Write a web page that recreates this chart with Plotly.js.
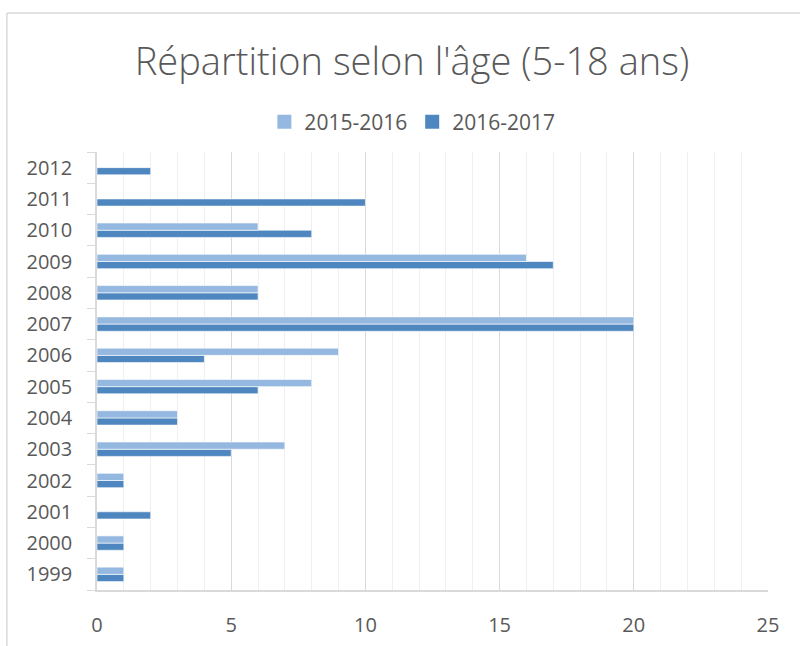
<!DOCTYPE html>
<html>
<head>
<meta charset="utf-8">
<script src="https://cdn.plot.ly/plotly-3.0.1.min.js"></script>
<style>html,body{margin:0;padding:0;background:#fff;}#chart{width:800px;height:646px;}</style>
</head>
<body>
<div id="chart"></div>
<script>
const years = ['1999','2000','2001','2002','2003','2004','2005','2006','2007','2008','2009','2010','2011','2012'];
const s2015_2016 = [1, 1, 0, 1, 7, 3, 8, 9, 20, 6, 16, 6, 0, 0];
const s2016_2017 = [1, 1, 2, 1, 5, 3, 6, 4, 20, 6, 17, 8, 10, 2];
const seriesNames = ['2015-2016', '2016-2017'];
const seriesColors = ['#95b8e0', '#4e87bf'];
const xTicks = [0, 5, 10, 15, 20, 25];

const FONT = 'Open Sans, Lato, sans-serif';
const GRAY = '#595959';

const traces = [
  {
    type: 'bar', orientation: 'h', name: seriesNames[1], y: years, x: s2016_2017,
    marker: {color: seriesColors[1], line: {color: '#ffffff', width: 0.6}},
    showlegend: false, hoverinfo: 'x+y'
  },
  {
    type: 'bar', orientation: 'h', name: seriesNames[0], y: years, x: s2015_2016,
    marker: {color: seriesColors[0], line: {color: '#ffffff', width: 0.6}},
    showlegend: false, hoverinfo: 'x+y'
  },
  // legend keys (larger squares, as in the reference)
  {
    type: 'scatter', mode: 'markers', name: seriesNames[0], x: [null], y: [null],
    marker: {symbol: 'square', size: 14, color: seriesColors[0]}, legendrank: 1
  },
  {
    type: 'scatter', mode: 'markers', name: seriesNames[1], x: [null], y: [null],
    marker: {symbol: 'square', size: 14, color: seriesColors[1]}, legendrank: 2
  }
];

const layout = {
  width: 800, height: 646,
  margin: {l: 97, r: 32, t: 152, b: 56, pad: 0},
  paper_bgcolor: '#ffffff', plot_bgcolor: '#ffffff',
  font: {family: FONT, color: GRAY},
  title: {
    text: "Répartition selon l'âge (5-18 ans)",
    font: {family: FONT, size: 38, color: GRAY, weight: 300},
    x: 0.515, xanchor: 'center', y: 0.904, yanchor: 'middle'
  },
  barmode: 'group', bargap: 0.54, bargroupgap: 0,
  showlegend: true,
  legend: {
    orientation: 'h', x: 0.47, xanchor: 'center', y: 1.068, yanchor: 'middle',
    font: {family: FONT, size: 21, color: GRAY}, itemwidth: 30, traceorder: 'normal'
  },
  xaxis: {
    range: [0, 25], tickvals: xTicks, ticktext: xTicks.map(String),
    showgrid: true, gridcolor: '#d9d9d9', gridwidth: 1.3,
    minor: {dtick: 1, showgrid: true, gridcolor: '#efefef', gridwidth: 1},
    zeroline: false, showline: true, linecolor: '#d9d9d9', linewidth: 1.5,
    ticks: '', ticklabelstandoff: 16,
    tickfont: {family: FONT, size: 20, color: GRAY}, fixedrange: true
  },
  yaxis: {
    type: 'category', categoryorder: 'array', categoryarray: years,
    showgrid: false, zeroline: false, showline: true, linecolor: '#d9d9d9', linewidth: 1.5,
    ticks: 'outside', tickson: 'boundaries', ticklen: 8, tickcolor: '#d9d9d9', tickwidth: 1.3,
    ticklabelstandoff: 19,
    tickfont: {family: FONT, size: 20, color: GRAY}, fixedrange: true
  },
  shapes: [
    {type: 'line', xref: 'paper', yref: 'paper', x0: -0.1343, x1: 1.1, y0: 1.3174, y1: 1.3174,
     line: {color: '#d9d9d9', width: 1.5}},
    {type: 'line', xref: 'paper', yref: 'paper', x0: -0.1343, x1: -0.1343, y0: 1.3174, y1: -0.2,
     line: {color: '#d9d9d9', width: 1.5}}
  ]
};

Plotly.newPlot('chart', traces, layout, {displayModeBar: false, responsive: false});
</script>
</body>
</html>
